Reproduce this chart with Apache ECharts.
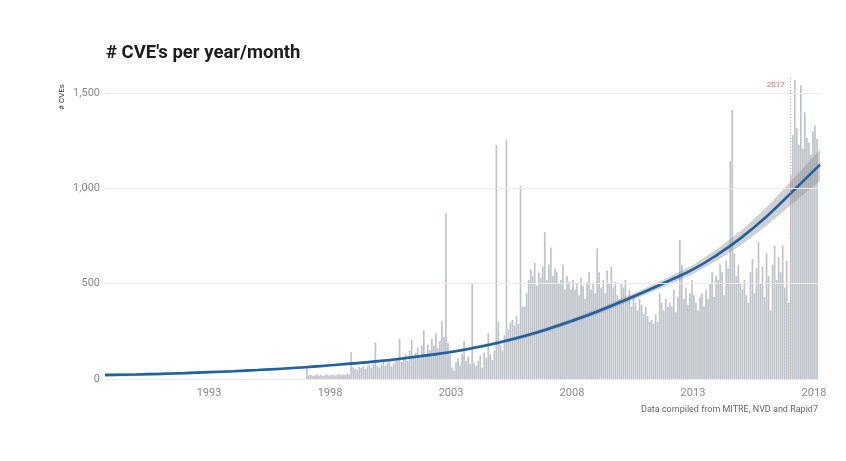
<!DOCTYPE html>
<html>
<head>
<meta charset="utf-8">
<script src="https://cdn.jsdelivr.net/npm/echarts@6/dist/echarts.min.js"></script>
<style>
html, body { margin: 0; padding: 0; background: #fff; }
#main { width: 846px; height: 461px; }
</style>
</head>
<body>
<div id="main"></div>
<script>
// monthly CVE counts
var cves1997 = [55, 18, 22, 15, 20, 25, 18, 22, 16, 20, 24, 18];
var cves1998 = [20, 24, 18, 22, 26, 20, 24, 22, 28, 25, 140, 60];
var cves1999 = [55, 48, 62, 58, 70, 52, 65, 75, 60, 80, 192, 70];
var cves2000 = [60, 75, 90, 70, 85, 100, 65, 80, 95, 110, 212, 90];
var cves2001 = [110, 130, 95, 150, 205, 120, 140, 165, 110, 175, 255, 125];
var cves2002 = [180, 150, 210, 175, 240, 160, 200, 305, 220, 870, 190, 130];
var cves2003 = [60, 45, 90, 110, 70, 130, 200, 95, 120, 80, 500, 85];
var cves2004 = [70, 95, 120, 60, 140, 110, 240, 130, 100, 150, 1228, 300];
var cves2005 = [180, 150, 230, 1254, 260, 300, 310, 280, 330, 290, 1013, 380];
var cves2006 = [380, 450, 520, 575, 540, 610, 490, 560, 530, 590, 770, 520];
var cves2007 = [600, 690, 540, 580, 560, 500, 520, 600, 470, 540, 510, 470];
var cves2008 = [520, 470, 500, 440, 530, 490, 420, 510, 560, 470, 500, 450];
var cves2009 = [685, 560, 480, 520, 450, 570, 500, 590, 480, 510, 440, 420];
var cves2010 = [500, 480, 520, 420, 470, 380, 440, 400, 360, 420, 390, 340];
var cves2011 = [380, 330, 300, 310, 290, 340, 300, 450, 400, 360, 420, 380];
var cves2012 = [400, 380, 470, 350, 430, 730, 600, 420, 480, 390, 450, 520];
var cves2013 = [440, 400, 360, 430, 450, 380, 470, 420, 500, 560, 430, 540];
var cves2014 = [520, 600, 560, 440, 620, 580, 1144, 1412, 660, 540, 600, 500];
var cves2015 = [470, 520, 440, 400, 560, 630, 450, 580, 720, 500, 590, 430];
var cves2016 = [660, 540, 360, 600, 700, 520, 640, 560, 700, 480, 620, 400];
var cves2017 = [1070, 1280, 1570, 1317, 1230, 1542, 1210, 1400, 1265, 1240, 1180, 1300];
var cves2018 = [1330, 1260];

var barYears = [1997, 1998, 1999, 2000, 2001, 2002, 2003, 2004, 2005, 2006, 2007,
                2008, 2009, 2010, 2011, 2012, 2013, 2014, 2015, 2016, 2017, 2018];
var barCounts = [cves1997, cves1998, cves1999, cves2000, cves2001, cves2002, cves2003,
                 cves2004, cves2005, cves2006, cves2007, cves2008, cves2009, cves2010,
                 cves2011, cves2012, cves2013, cves2014, cves2015, cves2016, cves2017, cves2018];

// smoothed trend and its confidence band
var trendYears = [1988.7, 1990, 1991, 1992, 1993, 1994, 1995, 1996, 1997, 1998, 1999, 2000,
                  2001, 2002, 2003, 2004, 2005, 2006, 2007, 2008, 2009, 2010, 2011, 2012,
                  2013, 2014, 2015, 2016, 2017, 2018.25];
var trendFit  = [21, 24, 27, 31, 36, 41, 47, 54, 62, 72, 82, 94, 108, 124, 142, 165, 192, 224,
                 262, 305, 352, 404, 458, 515, 575, 652, 742, 848, 970, 1125];
var trendLow  = [11, 16, 20, 25, 30, 36, 42, 49, 57, 67, 76, 88, 102, 117, 134, 157, 183, 214,
                 251, 293, 339, 389, 441, 495, 551, 622, 704, 800, 908, 1040];
var trendHigh = [31, 32, 34, 37, 42, 46, 52, 59, 67, 77, 88, 100, 114, 131, 150, 173, 201, 234,
                 273, 317, 365, 419, 475, 535, 599, 682, 780, 896, 1032, 1205];

var xTicks = [1993, 1998, 2003, 2008, 2013, 2018];
var yTicks = [0, 500, 1000, 1500];
var markYear = 2017;

var barData = [];
for (var i = 0; i < barYears.length; i++) {
    for (var m = 0; m < barCounts[i].length; m++) {
        barData.push([barYears[i] + (m + 0.5) / 12, barCounts[i][m]]);
    }
}
var fitData = trendYears.map(function (y, i) { return [y, trendFit[i]]; });

var myChart = echarts.init(document.getElementById('main'));
var font = 'Roboto, "Noto Sans", sans-serif';

var option = {
    backgroundColor: '#fff',
    animation: false,
    title: {
        text: "# CVE's per year/month",
        left: 101,
        top: 39,
        textStyle: { fontFamily: font, fontWeight: 'bold', fontSize: 18.5, color: '#1c1c1c' }
    },
    grid: { left: 105, right: 26, top: 78, bottom: 82 },
    xAxis: {
        type: 'value',
        min: 1988.7,
        max: 2018.25,
        axisLine: { show: false },
        axisTick: { show: false },
        splitLine: { show: false },
        axisLabel: {
            customValues: xTicks,
            color: '#8a8a8a',
            fontFamily: font,
            fontSize: 11,
            margin: 9,
            formatter: function (v) { return String(Math.round(v)); }
        }
    },
    yAxis: {
        type: 'value',
        min: 0,
        max: 1580,
        axisLine: { show: false },
        axisTick: { show: false },
        splitLine: { show: false },
        axisLabel: {
            customValues: yTicks,
            color: '#8a8a8a',
            fontFamily: font,
            fontSize: 11,
            margin: 5,
            formatter: function (v) { return v.toLocaleString('en-US'); }
        }
    },
    series: [
        {
            // grid lines
            type: 'line',
            data: [],
            z: 1,
            silent: true,
            markLine: {
                silent: true,
                symbol: 'none',
                label: { show: false },
                lineStyle: { color: '#ebebeb', type: 'solid', width: 1 },
                data: yTicks.map(function (v) { return { yAxis: v }; })
            }
        },
        {
            type: 'bar',
            data: barData,
            barWidth: 1.7,
            z: 2,
            itemStyle: { color: '#bec4ca' },
            markLine: {
                silent: true,
                symbol: 'none',
                label: { show: false },
                lineStyle: { color: '#e59a9a', type: [1, 2], width: 1 },
                data: [{ xAxis: markYear }]
            }
        },
        {
            type: 'custom',
            z: 3,
            silent: true,
            data: [[trendYears[0], trendFit[0]]],
            renderItem: function (params, api) {
                var pts = [];
                for (var k = 0; k < trendYears.length; k++) pts.push(api.coord([trendYears[k], trendHigh[k]]));
                for (var k2 = trendYears.length - 1; k2 >= 0; k2--) pts.push(api.coord([trendYears[k2], trendLow[k2]]));
                return {
                    type: 'polygon',
                    shape: { points: pts },
                    style: { fill: 'rgba(140,140,140,0.4)' }
                };
            }
        },
        {
            type: 'line',
            data: fitData,
            z: 4,
            smooth: true,
            symbol: 'none',
            lineStyle: { color: '#1f62a3', width: 2.6 }
        }
    ]
};
myChart.setOption(option);

// texts placed against the axes
var top2017 = myChart.convertToPixel({ gridIndex: 0 }, [markYear, 1580]);
var origin = myChart.convertToPixel({ gridIndex: 0 }, [2018.25, 0]);
myChart.setOption({
    graphic: [
        {
            type: 'text',
            x: top2017[0] - 5,
            y: top2017[1] + 7,
            style: { text: '2017', fill: '#e06a6a', font: '8px ' + font, textAlign: 'right', textVerticalAlign: 'middle' }
        },
        {
            type: 'text',
            x: 62,
            y: 97,
            rotation: Math.PI / 2,
            style: { text: '# CVEs', fill: '#333', font: '8px ' + font, textAlign: 'center', textVerticalAlign: 'middle' }
        },
        {
            type: 'text',
            x: origin[0] - 2,
            y: origin[1] + 31,
            style: { text: 'Data compiled from MITRE, NVD and Rapid7', fill: '#666', font: '9px ' + font, textAlign: 'right', textVerticalAlign: 'middle' }
        }
    ]
});
</script>
</body>
</html>
